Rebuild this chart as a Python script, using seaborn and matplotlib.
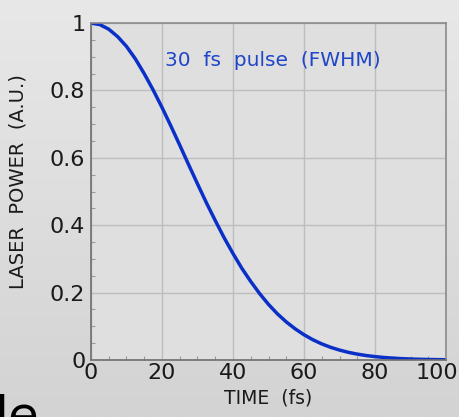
import numpy as np
import pandas as pd
import matplotlib
matplotlib.use("Agg")
import matplotlib.pyplot as plt
import matplotlib.transforms as mtransforms
import seaborn as sns
from matplotlib.ticker import MultipleLocator

# Pulse intensity profile, sampled every 2.5 fs
time_fs = [0, 2.5, 5, 7.5, 10, 12.5, 15, 17.5, 20, 22.5, 25, 27.5, 30, 32.5, 35,
           37.5, 40, 42.5, 45, 47.5, 50, 52.5, 55, 57.5, 60, 62.5, 65, 67.5, 70,
           72.5, 75, 77.5, 80, 82.5, 85, 87.5, 90, 92.5, 95, 97.5, 100]
power = [1.000, 0.9955, 0.982, 0.960, 0.931, 0.894, 0.850, 0.802, 0.750, 0.695,
         0.638, 0.580, 0.523, 0.467, 0.414, 0.363, 0.316, 0.272, 0.233, 0.197,
         0.165, 0.137, 0.113, 0.0925, 0.0749, 0.060, 0.0477, 0.0376, 0.0294,
         0.0227, 0.0174, 0.0132, 0.0100, 0.0074, 0.0055, 0.0040, 0.0029,
         0.0021, 0.0015, 0.0011, 0.0007]

x_ticks = [0, 20, 40, 60, 80, 100]
x_labels = ["0", "20", "40", "60", "80", "100"]
y_ticks = [0, 0.2, 0.4, 0.6, 0.8, 1]
y_labels = ["0", "0.2", "0.4", "0.6", "0.8", "1"]

pulse_label = "30  fs  pulse  (FWHM)"
x_title = "TIME  (fs)"
y_title = "LASER  POWER  (A.U.)"

df = pd.DataFrame({"time": time_fs, "power": power})

sns.set_theme(style="whitegrid")
plt.rcParams["font.family"] = ["DejaVu Sans"]

fig = plt.figure(figsize=(4.59, 4.17), dpi=100)
fig.patch.set_facecolor("#d9d9d9")

# soft vertical gradient behind everything
bg = fig.add_axes([0, 0, 1, 1], zorder=-10)
grad = np.linspace(0, 1, 256).reshape(-1, 1)
bg.imshow(grad, aspect="auto", cmap=matplotlib.colors.LinearSegmentedColormap.from_list(
    "bg", ["#e8e8e8", "#d3d3d3"]), extent=[0, 1, 0, 1], origin="upper")
bg.set_axis_off()

ax = fig.add_axes([0.198, 0.1367, 0.774, 0.808])
ax.set_facecolor("#dfdfdf")

sns.lineplot(data=df, x="time", y="power", ax=ax, color="#0a30c8", linewidth=2.5)

ax.set_xlim(0, 100)
ax.set_ylim(0, 1)
ax.set_xticks(x_ticks)
ax.set_xticklabels(x_labels)
ax.set_yticks(y_ticks)
ax.set_yticklabels(y_labels)
ax.xaxis.set_minor_locator(MultipleLocator(5))
ax.yaxis.set_minor_locator(MultipleLocator(0.05))

ax.grid(True, which="major", color="#bdbdbd", linewidth=1.0)
ax.grid(False, which="minor")
ax.tick_params(axis="both", which="major", direction="in", length=0,
               labelsize=16, labelcolor="#1a1a1a")
ax.tick_params(axis="x", which="major", pad=2)
ax.tick_params(axis="y", which="major", pad=4)
ax.tick_params(axis="both", which="minor", direction="in", length=3,
               width=0.8, color="#9a9a9a")
ax.tick_params(axis="x", which="minor", bottom=True)
ax.tick_params(axis="y", which="minor", left=True)

# nudge the last x label inward so it stays on the canvas
last = ax.get_xticklabels()[-1]
last.set_transform(last.get_transform() +
                   mtransforms.ScaledTranslation(-9 / 100, 0, fig.dpi_scale_trans))

for name, sp in ax.spines.items():
    sp.set_visible(True)
    sp.set_color("#6e6e6e" if name in ("left", "bottom") else "#8a8a8a")
    sp.set_linewidth(1.2)

ax.set_xlabel(x_title, fontsize=13.5, color="#1a1a1a", labelpad=4)
ax.set_ylabel(y_title, fontsize=14, color="#1a1a1a")
ax.yaxis.set_label_coords(-0.177, 0.53)

ax.text(20.8, 0.89, pulse_label, color="#1f45c8", fontsize=14.5,
        va="center", ha="left")

fig.text(-0.012, -0.034, "le", fontsize=36, color="black", ha="left", va="baseline")

fig.savefig("out.png", dpi=100, facecolor=fig.get_facecolor())
